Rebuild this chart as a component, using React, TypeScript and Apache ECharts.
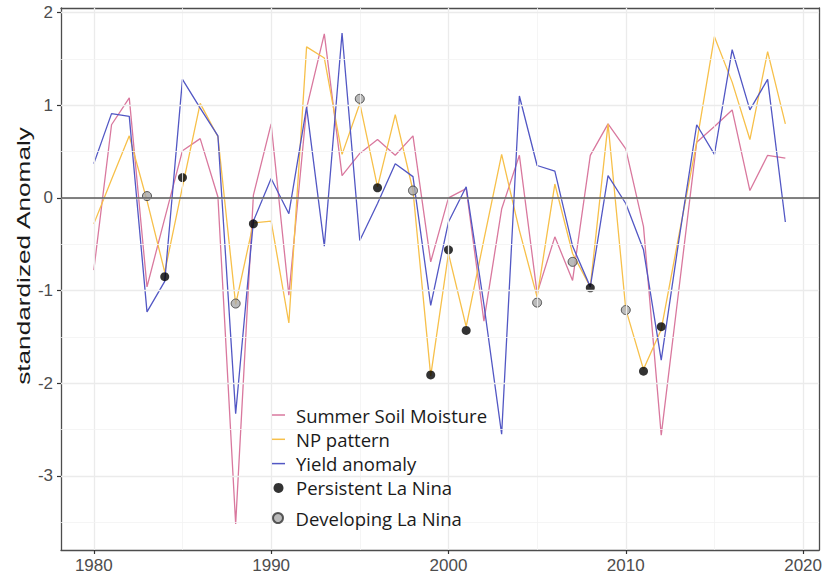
import React, { useEffect, useRef } from "react";
import * as echarts from "echarts";

// Years of record
const years = [
  1980, 1981, 1982, 1983, 1984, 1985, 1986, 1987, 1988, 1989,
  1990, 1991, 1992, 1993, 1994, 1995, 1996, 1997, 1998, 1999,
  2000, 2001, 2002, 2003, 2004, 2005, 2006, 2007, 2008, 2009,
  2010, 2011, 2012, 2013, 2014, 2015, 2016, 2017, 2018, 2019,
];

// Standardized anomalies per year
const soilMoisture = [
  -0.78, 0.79, 1.08, -0.96, -0.22, 0.51, 0.64, 0.01, -3.52, 0.03,
  0.8, -1.05, 0.97, 1.77, 0.24, 0.48, 0.63, 0.46, 0.67, -0.69,
  0.0, 0.1, -1.33, -0.12, 0.46, -1.03, -0.42, -0.89, 0.46, 0.8,
  0.53, -0.31, -2.56, -0.98, 0.6, 0.77, 0.95, 0.08, 0.46, 0.43,
];
const npPattern = [
  -0.28, 0.2, 0.67, -0.03, -0.8, 0.12, 1.02, 0.66, -1.15, -0.27,
  -0.25, -1.35, 1.63, 1.51, 0.47, 1.02, 0.12, 0.9, 0.08, -1.92,
  -0.6, -1.39, -0.45, 0.47, -0.35, -1.07, 0.15, -0.6, -0.96, 0.8,
  -1.2, -1.85, -1.42, -0.4, 0.6, 1.74, 1.25, 0.63, 1.58, 0.8,
];
const yieldAnomaly = [
  0.37, 0.91, 0.88, -1.23, -0.9, 1.28, 0.97, 0.67, -2.33, -0.25,
  0.21, -0.17, 0.98, -0.52, 1.78, -0.46, -0.06, 0.37, 0.23, -1.16,
  -0.26, 0.12, -1.15, -2.55, 1.1, 0.35, 0.29, -0.52, -0.96, 0.24,
  -0.06, -0.56, -1.75, -0.45, 0.79, 0.47, 1.6, 0.95, 1.28, -0.26,
];

// La Nina event markers
const persistentYears = [1984, 1985, 1989, 1996, 1999, 2000, 2001, 2008, 2011, 2012];
const persistentValues = [-0.85, 0.22, -0.28, 0.11, -1.91, -0.56, -1.43, -0.97, -1.87, -1.39];
const developingYears = [1983, 1988, 1995, 1998, 2005, 2007, 2010];
const developingValues = [0.02, -1.14, 1.07, 0.08, -1.13, -0.69, -1.21];

// Axis ticks and grid positions
const xTicks = [1980, 1990, 2000, 2010, 2020];
const xMinor = [1985, 1995, 2005, 2015];
const yTicks = [-3, -2, -1, 0, 1, 2];
const yMinor = [-3.5, -2.5, -1.5, -0.5, 0.5, 1.5];

const pairs = (xs: number[], ys: number[]) => xs.map((x, i) => [x, ys[i]]);

const X_MIN = 1978.15;
const X_MAX = 2020.9;
const Y_MIN = -3.8;
const Y_MAX = 2.05;

const frameLine = { show: true, onZero: false, lineStyle: { color: "#4d4d4d", width: 1.3 } };
const LINE_ICON = "path://M0 0H26V3H0Z";

export default function App() {
  const ref = useRef<HTMLDivElement>(null);

  useEffect(() => {
    if (!ref.current) return;
    const chart = echarts.init(ref.current, null, { renderer: "svg" });

    const major = { color: "#ebebeb", width: 1.3, type: "solid" as const };
    const minor = { color: "#f2f2f2", width: 0.8, type: "solid" as const };
    const gridLines = [
      ...xTicks.map((v) => ({ xAxis: v, lineStyle: major })),
      ...xMinor.map((v) => ({ xAxis: v, lineStyle: minor })),
      ...yTicks.map((v) => ({ yAxis: v, lineStyle: major })),
      ...yMinor.map((v) => ({ yAxis: v, lineStyle: minor })),
    ];

    const tickLabel = {
      color: "#4d4d4d",
      fontSize: 17,
      fontFamily: "Liberation Sans, Arial, sans-serif",
      formatter: (v: number) => String(v),
    };
    const tick = { show: true, length: 4, lineStyle: { color: "#333", width: 1.2 } };
    const hidden = {
      axisTick: { show: false },
      axisLabel: { show: false },
      splitLine: { show: false },
    };

    const legendText = {
      fontFamily: "Open Sans",
      fontSize: 18.5,
      color: "#1a1a1a",
      lineHeight: 20,
      padding: [0, 0, 0, 6],
    };

    chart.setOption({
      animation: false,
      grid: { left: 61, right: 2.3, top: 8, bottom: 30 },
      xAxis: [
        {
          type: "value",
          min: X_MIN,
          max: X_MAX,
          axisLine: frameLine,
          splitLine: { show: false },
          axisTick: { ...tick, customValues: xTicks },
          axisLabel: { ...tickLabel, customValues: xTicks, margin: 7 },
        },
        { type: "value", position: "top", min: X_MIN, max: X_MAX, axisLine: frameLine, ...hidden },
      ],
      yAxis: [
        {
          type: "value",
          min: Y_MIN,
          max: Y_MAX,
          axisLine: frameLine,
          splitLine: { show: false },
          axisTick: { ...tick, customValues: yTicks },
          axisLabel: { ...tickLabel, customValues: yTicks, margin: 8 },
        },
        { type: "value", position: "right", min: Y_MIN, max: Y_MAX, axisLine: frameLine, ...hidden },
      ],
      legend: [
        {
          data: [
            { name: "Summer Soil Moisture", icon: LINE_ICON },
            { name: "NP pattern", icon: LINE_ICON },
            { name: "Yield anomaly", icon: LINE_ICON },
            { name: "Persistent La Nina", icon: "circle" },
          ],
          orient: "vertical",
          left: 272,
          top: 405,
          padding: 0,
          itemWidth: 13,
          itemHeight: 10,
          itemGap: 4.3,
          selectedMode: false,
          z: 10,
          textStyle: legendText,
        },
        {
          data: [{ name: "Developing La Nina", icon: "circle" }],
          orient: "vertical",
          left: 272,
          top: 508,
          padding: 0,
          itemWidth: 13,
          itemHeight: 10,
          selectedMode: false,
          z: 10,
          textStyle: legendText,
        },
      ],
      graphic: [
        {
          type: "rect",
          shape: { x: 265, y: 393, width: 230, height: 144 },
          style: { fill: "#ffffff" },
          z: 5,
          silent: true,
        },
        {
          type: "text",
          x: 23,
          y: 256,
          rotation: Math.PI / 2,
          scaleX: 1.38,
          style: {
            text: "standardized Anomaly",
            fill: "#1a1a1a",
            fontSize: 19,
            fontFamily: "Liberation Sans, Arial, sans-serif",
            align: "center",
            verticalAlign: "middle",
          },
          z: 10,
        },
      ],
      series: [
        {
          type: "line",
          name: "gridlines",
          data: [],
          silent: true,
          z: 1,
          markLine: { symbol: "none", silent: true, label: { show: false }, data: gridLines },
        },
        {
          type: "line",
          name: "zero",
          data: [],
          silent: true,
          z: 1,
          markLine: {
            symbol: "none",
            silent: true,
            label: { show: false },
            data: [{ yAxis: 0, lineStyle: { color: "#5a5a5a", width: 1.5, type: "solid" } }],
          },
        },
        {
          type: "line",
          name: "Summer Soil Moisture",
          data: pairs(years, soilMoisture),
          symbol: "none",
          lineStyle: { color: "#d9789e", width: 1.3 },
          itemStyle: { color: "#d9789e" },
          z: 2,
        },
        {
          type: "line",
          name: "NP pattern",
          data: pairs(years, npPattern),
          symbol: "none",
          lineStyle: { color: "#f7c04a", width: 1.3 },
          itemStyle: { color: "#f7c04a" },
          z: 2,
        },
        {
          type: "line",
          name: "Yield anomaly",
          data: pairs(years, yieldAnomaly),
          symbol: "none",
          lineStyle: { color: "#5257c4", width: 1.3 },
          itemStyle: { color: "#5257c4" },
          z: 2,
        },
        {
          type: "scatter",
          name: "Persistent La Nina",
          data: pairs(persistentYears, persistentValues),
          symbolSize: 9,
          itemStyle: { color: "#000000" },
          z: 4,
        },
        {
          type: "scatter",
          name: "Developing La Nina",
          data: pairs(developingYears, developingValues),
          symbolSize: 9,
          itemStyle: { color: "#a9a9a9", borderColor: "#333333", borderWidth: 1 },
          z: 4,
        },
      ],
    });

    return () => chart.dispose();
  }, []);

  return (
    <div
      ref={ref}
      style={{ position: "absolute", left: 0, top: 0, width: 825, height: 580 }}
    />
  );
}
